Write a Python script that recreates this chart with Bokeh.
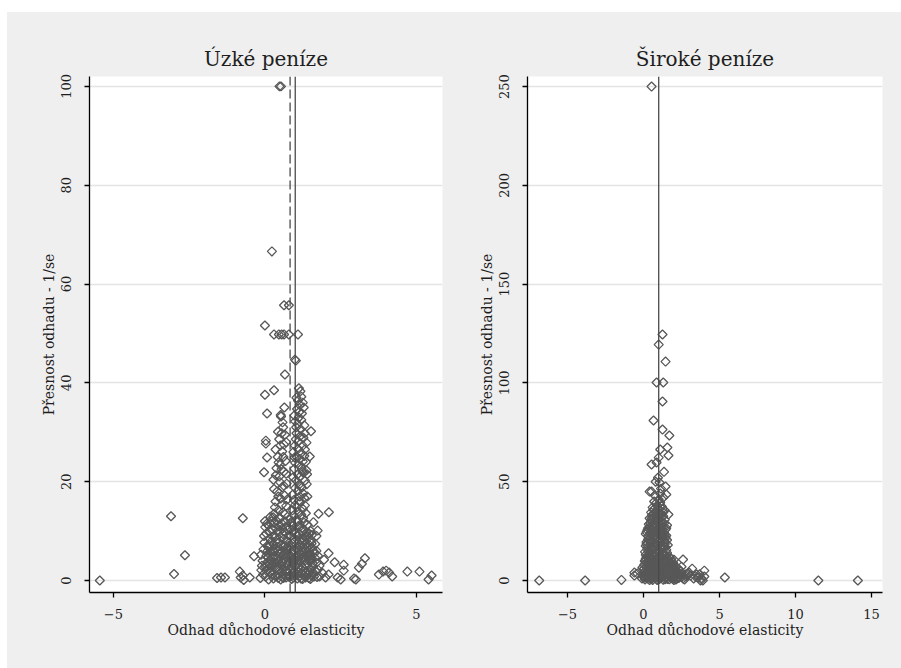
from bokeh.plotting import figure
from bokeh.layouts import row
from bokeh.models import Span, FixedTicker, Range1d
from bokeh.embed import file_html
from bokeh.resources import INLINE

# ---------------- data: (elasticity estimate, precision 1/se) ----------------
narrow_tail = [(-5.45, 0), (-3.1, 13), (-3.0, 1.3), (-2.64, 5.1), (-1.58, 0.5), (-1.45, 0.6),
               (-1.32, 0.6), (-0.83, 1.8), (-0.73, 1.0), (-0.7, 0.1), (-0.73, 12.6), (-0.5, 0.6),
               (-0.36, 4.9), (-0.8, 0.6), (1.77, 13.5), (2.11, 13.8), (1.74, 10.1), (2.1, 5.5),
               (2.3, 3.7), (2.6, 3.2), (2.6, 2.0), (2.0, 0.6), (2.1, 1.2), (2.4, 0.6), (2.5, 0.2),
               (2.94, 0.4), (3.0, 0.2), (3.1, 2.6), (3.2, 3.4), (3.3, 4.5), (3.76, 1.2), (3.9, 1.8),
               (4.0, 2.0), (4.1, 1.6), (4.2, 0.8), (4.7, 1.8), (5.1, 1.8), (5.4, 0.2), (5.5, 1.0),
               (1.8, 3), (1.9, 1.5), (1.7, 6), (1.95, 4.2), (1.75, 2.2)]
narrow_top = [(0.48, 100), (0.53, 100), (0.23, 66.6), (0.63, 55.7), (0.79, 55.7), (0.0, 51.6),
              (0.3, 49.8), (0.46, 49.8), (0.55, 49.8), (0.63, 49.8), (0.79, 49.8), (1.09, 49.8),
              (0.99, 44.7), (1.02, 44.5), (0.66, 41.7), (0.3, 38.5), (0.0, 37.6), (1.12, 38.9),
              (0.07, 33.8), (0.53, 33.2), (0.03, 27.7), (0.03, 28.3), (0.07, 24.9), (-0.03, 21.9),
              (1.52, 30.2), (1.48, 25.1), (1.39, 21.5)]
narrow_core = [(-0.12, 2.1), (-0.05, 6.3), (0.02, 0.8), (0.04, 9.5), (0.08, 3.7), (0.11, 11.2),
               (0.13, 5.4), (0.17, 1.6), (0.2, 7.9), (0.22, 3.1), (0.25, 10.4), (0.28, 0.4),
               (0.3, 5.9), (0.33, 8.7), (0.36, 2.5), (0.38, 12.1), (0.41, 4.4), (0.43, 6.8),
               (0.46, 1.2), (0.48, 9.9), (0.5, 3.3), (0.53, 7.2), (0.55, 11.6), (0.58, 0.7),
               (0.6, 5.1), (0.62, 8.4), (0.65, 2.9), (0.68, 10.8), (0.7, 4.7), (0.72, 6.1),
               (0.75, 1.9), (0.78, 9.1), (0.8, 3.8), (0.83, 12.4), (0.85, 5.6), (0.88, 0.3),
               (0.9, 7.5), (0.93, 2.3), (0.95, 10.1), (0.98, 4.2), (1.0, 8.1), (1.02, 1.4),
               (1.05, 6.6), (1.08, 11.9), (1.1, 3.5), (1.13, 9.4), (1.15, 0.9), (1.18, 5.3),
               (1.2, 7.7), (1.23, 2.7), (1.25, 10.6), (1.28, 4.9), (1.3, 1.1), (1.33, 8.9),
               (1.35, 6.2), (1.38, 3.0), (1.4, 11.3), (1.43, 5.0), (1.45, 0.5), (1.48, 7.1),
               (1.5, 2.4), (1.53, 4.1), (1.55, 9.2), (1.58, 1.7), (1.6, 6.0), (-0.08, 4.0),
               (0.0, 2.8), (0.05, 5.0), (0.15, 8.5), (0.18, 12.9), (0.27, 2.0), (0.35, 6.5),
               (0.45, 3.9), (0.52, 0.2), (0.57, 5.8), (0.67, 7.0), (0.73, 3.0), (0.82, 1.0),
               (0.87, 4.5), (0.92, 9.8), (0.97, 6.0), (1.03, 3.0), (1.07, 0.4), (1.12, 5.0),
               (1.17, 8.3), (1.22, 1.5), (1.27, 6.8), (1.32, 4.0), (1.37, 9.7), (1.42, 2.0),
               (1.47, 5.5), (1.52, 8.0), (1.57, 3.5), (1.62, 0.8), (1.65, 4.6)]
narrow_core2 = [(-0.15, 0.5), (-0.1, 3.0), (-0.02, 7.7), (0.01, 10.8), (0.06, 1.9), (0.09, 6.0),
                (0.12, 0.2), (0.14, 3.3), (0.16, 9.9), (0.19, 5.7), (0.21, 12.0), (0.24, 1.1),
                (0.26, 4.8), (0.29, 7.3), (0.31, 11.6), (0.34, 0.9), (0.37, 3.6), (0.39, 8.2),
                (0.42, 10.0), (0.44, 2.2), (0.47, 5.4), (0.49, 12.5), (0.51, 6.3), (0.54, 1.7),
                (0.56, 3.9), (0.59, 9.4), (0.61, 0.5), (0.63, 6.9), (0.66, 12.0), (0.69, 2.0),
                (0.71, 8.0), (0.74, 5.1), (0.76, 10.2), (0.79, 0.8), (0.81, 6.4), (0.84, 2.7),
                (0.86, 9.0), (0.89, 4.0), (0.91, 11.0), (0.94, 0.6), (0.96, 7.8), (0.99, 2.9),
                (1.01, 12.2), (1.04, 5.0), (1.06, 9.0), (1.09, 1.8), (1.11, 6.2), (1.14, 3.9),
                (1.16, 10.9), (1.19, 0.4), (1.21, 4.5), (1.24, 8.6), (1.26, 2.0), (1.29, 11.7),
                (1.31, 5.8), (1.34, 0.6), (1.36, 7.4), (1.39, 3.5), (1.41, 9.0), (1.44, 1.3),
                (1.46, 6.0), (1.49, 4.4), (1.51, 10.0), (1.54, 0.9), (1.56, 6.6), (1.59, 2.8),
                (1.63, 5.5), (1.67, 1.9), (1.7, 3.6), (1.72, 0.7), (-0.13, 5.2), (0.0, 12.0),
                (0.07, 7.0), (0.23, 5.5), (0.32, 2.8), (0.4, 1.0), (0.57, 10.5), (0.64, 4.2),
                (0.77, 7.0), (0.9, 1.5), (1.0, 4.8), (1.1, 11.0), (1.2, 6.0), (1.35, 1.8),
                (1.5, 5.0), (1.6, 11.8)]
narrow_core3 = [(-0.06, 1.2), (0.03, 3.4), (0.1, 4.6), (0.14, 7.2), (0.2, 2.0), (0.24, 6.1),
                (0.3, 3.6), (0.34, 4.9), (0.4, 7.6), (0.44, 0.5), (0.5, 5.7), (0.54, 3.0),
                (0.6, 2.2), (0.64, 9.8), (0.7, 0.6), (0.74, 7.9), (0.8, 5.3), (0.84, 0.8),
                (0.9, 5.8), (0.94, 3.5), (1.0, 1.0), (1.04, 7.3), (1.1, 2.6), (1.14, 6.8),
                (1.2, 4.2), (1.24, 0.3), (1.3, 8.2), (1.34, 3.2), (1.4, 6.7), (1.44, 4.0),
                (1.5, 0.3), (1.54, 7.5), (-0.03, 9.0), (0.06, 11.5), (0.26, 8.9), (0.46, 11.0),
                (0.66, 5.2), (0.86, 11.8), (1.06, 4.0), (1.26, 12.6), (1.46, 9.5), (0.12, 6.8),
                (0.36, 10.6), (0.58, 3.6), (0.8, 10.6), (1.02, 9.6), (1.22, 10.0), (1.4, 1.2),
                (0.18, 4.0), (0.42, 6.0), (0.62, 1.3), (0.96, 1.9), (1.16, 7.0), (1.36, 5.0),
                (1.56, 1.2), (1.66, 7.4), (1.7, 9.0), (1.75, 5.0), (1.8, 0.8)]
narrow_left_col = [(0.3, 13.5), (0.45, 14.2), (0.6, 13.8), (0.7, 15.1), (0.35, 16.0), (0.52, 16.6),
                   (0.65, 17.2), (0.4, 18.0), (0.58, 18.9), (0.72, 19.6), (0.28, 20.4), (0.48, 21.1),
                   (0.62, 22.0), (0.5, 23.4), (0.68, 24.2), (0.42, 25.0), (0.57, 26.1), (0.63, 27.5),
                   (0.47, 28.6), (0.55, 29.8), (0.6, 31.0), (0.38, 22.7), (0.7, 28.0), (0.52, 33.5),
                   (0.64, 35.0), (0.27, 12.8), (0.5, 12.6), (0.66, 13.4), (0.33, 14.8), (0.56, 15.3),
                   (0.74, 16.4), (0.44, 17.0), (0.3, 18.5), (0.62, 19.2), (0.5, 19.9), (0.36, 21.3),
                   (0.7, 21.6), (0.55, 22.5), (0.45, 23.9), (0.61, 25.0), (0.35, 26.5), (0.51, 27.3),
                   (0.66, 29.5), (0.43, 30.1), (0.58, 32.0)]
narrow_right_col = [(0.95, 13.2), (1.1, 13.9), (1.25, 14.5), (1.35, 13.6), (1.0, 15.3), (1.18, 15.9),
                    (1.3, 16.7), (0.92, 17.4), (1.08, 18.1), (1.22, 18.8), (1.38, 19.5), (1.02, 20.3),
                    (1.15, 21.0), (1.28, 21.8), (0.97, 22.6), (1.12, 23.4), (1.25, 24.1), (1.05, 25.0),
                    (1.2, 25.8), (1.32, 26.5), (0.99, 27.3), (1.1, 28.1), (1.27, 28.9), (1.04, 29.8),
                    (1.18, 30.6), (1.3, 31.4), (1.0, 32.2), (1.12, 33.0), (1.22, 33.8), (1.06, 34.7),
                    (1.15, 35.5), (1.09, 36.4), (1.2, 37.2), (1.03, 31.0), (1.24, 22.0), (1.15, 17.0),
                    (1.35, 24.0), (0.94, 26.0), (1.14, 19.5), (1.28, 35.0), (0.91, 14.2), (1.05, 14.8),
                    (1.2, 13.3), (1.32, 15.2), (0.96, 16.3), (1.12, 16.1), (1.26, 17.6), (1.4, 17.0),
                    (1.0, 18.7), (1.17, 19.0), (1.32, 20.2), (0.93, 20.9), (1.08, 21.5), (1.21, 22.7),
                    (1.37, 22.3), (1.0, 23.8), (1.15, 24.6), (1.3, 25.2), (0.98, 24.9), (1.09, 26.6),
                    (1.25, 27.3), (1.37, 27.9), (1.02, 28.6), (1.16, 29.2), (1.31, 29.8), (1.08, 31.7),
                    (1.2, 32.5), (0.97, 33.4), (1.13, 34.1), (1.25, 36.0), (1.04, 37.0), (1.17, 38.3)]

broad_tail = [(-6.86, 0), (-3.84, 0), (-1.45, 0.3), (-0.6, 4), (-0.6, 2.5), (-0.4, 3.5),
              (-0.07, 6.6), (2.6, 10.6), (2.5, 7), (4.0, 5), (4.0, 2), (3.9, 0), (3.75, 0),
              (5.35, 1.5), (11.5, 0), (14.1, 0), (2.2, 3), (2.8, 2), (3.0, 4), (3.3, 1), (3.5, 3),
              (2.4, 5), (2.0, 8), (2.7, 0.5), (3.2, 6), (3.6, 1.5), (2.9, 3.5), (2.3, 1.2)]
broad_top = [(0.53, 250), (1.25, 124.5), (1.0, 119.4), (1.45, 110.8), (0.86, 100.2), (1.3, 100.2),
             (1.25, 90.6), (0.66, 81), (1.25, 76.4), (1.7, 73.4), (1.1, 66.3), (1.57, 67.3),
             (1.64, 63.3), (1.0, 62.2), (0.86, 59.7), (0.53, 58.7), (0.8, 50), (1.05, 49.6),
             (1.45, 47.6), (0.4, 45), (0.53, 45), (1.1, 44), (1.5, 43.5), (1.05, 39), (1.64, 33.4)]
broad_core = [(-0.1, 1), (0.0, 4), (0.05, 8), (0.1, 0.5), (0.15, 11), (0.2, 3), (0.25, 6.5),
              (0.3, 9.5), (0.35, 1.8), (0.4, 5), (0.45, 12), (0.5, 2.5), (0.55, 7.5), (0.6, 0.3),
              (0.65, 10), (0.7, 4.2), (0.75, 6), (0.8, 1.2), (0.85, 8.8), (0.9, 3.4), (0.95, 11.5),
              (1.0, 5.5), (1.05, 0.8), (1.1, 7.2), (1.15, 2.2), (1.2, 9.6), (1.25, 4.6), (1.3, 0.4),
              (1.35, 6.8), (1.4, 3), (1.45, 10.5), (1.5, 1.6), (1.55, 5.2), (1.6, 8.2), (1.65, 2.8),
              (1.7, 0.6), (1.75, 4.4), (1.8, 6.4), (1.85, 1.4), (1.9, 3.6), (1.95, 9), (2.0, 0.2),
              (2.05, 5.8), (2.1, 2.4), (2.15, 4), (2.2, 1), (2.3, 6), (2.4, 2.6), (0.12, 2.6),
              (0.32, 4.4), (0.52, 0.9), (0.72, 8.6), (0.92, 6.2), (1.12, 3.8), (1.32, 8.4),
              (1.52, 11.5), (1.72, 7.6), (0.22, 9.2), (0.62, 4.8), (1.02, 2.4), (1.42, 0.6),
              (1.82, 10.8), (0.02, 6)]
broad_core2 = [(-0.05, 2.5), (0.03, 5.8), (0.08, 9.8), (0.13, 1.5), (0.18, 7), (0.23, 4.5),
               (0.28, 11.5), (0.33, 0.8), (0.38, 8.2), (0.43, 3), (0.48, 6.8), (0.53, 10.5),
               (0.58, 1.5), (0.63, 5.8), (0.68, 12.5), (0.73, 2.8), (0.78, 9.2), (0.83, 4.8),
               (0.88, 0.6), (0.93, 7.8), (0.98, 2.2), (1.03, 10.2), (1.08, 4.2), (1.13, 1.2),
               (1.18, 6.2), (1.23, 11.8), (1.28, 2.8), (1.33, 5), (1.38, 9.2), (1.43, 1.6),
               (1.48, 7.2), (1.53, 3.6), (1.58, 0.8), (1.63, 5.8), (1.68, 9.8), (1.73, 1.8),
               (1.78, 3), (1.83, 5.4), (1.88, 7.5), (1.93, 0.8), (1.98, 4.6), (2.03, 2),
               (2.08, 6.8), (2.13, 0.5), (2.25, 3.5), (2.35, 1.5), (2.45, 4.5), (2.55, 2),
               (0.4, 0.2), (0.9, 0.2), (1.4, 12.5), (0.1, 3.5), (0.6, 9), (1.1, 5.5), (1.6, 3.8),
               (2.0, 10.5)]
broad_core3 = [(0.05, 1.5), (0.15, 5), (0.25, 2), (0.35, 7), (0.45, 4), (0.55, 1), (0.65, 7),
               (0.75, 3), (0.85, 5.5), (0.95, 1.5), (1.05, 8), (1.15, 4.5), (1.25, 7.5), (1.35, 2),
               (1.45, 5), (1.55, 9.5), (1.65, 4.5), (1.75, 2.5), (1.85, 8.5), (1.95, 6), (0.2, 12),
               (0.5, 11.5), (0.8, 11), (1.1, 12), (1.4, 11), (1.7, 12), (0.3, 15), (0.6, 16),
               (0.9, 15), (1.2, 16.5), (1.5, 15.5), (0.2, 18.5), (0.5, 19), (0.8, 18.2), (1.1, 19),
               (1.4, 18.5), (0.35, 21), (0.65, 22), (0.95, 21.2), (1.25, 22.5), (1.45, 21.5),
               (0.2, 24.5), (0.5, 23), (0.8, 23), (1.1, 25), (1.4, 23), (0.3, 26.5), (0.6, 27.5),
               (0.9, 26), (1.2, 28), (1.5, 26.5), (0.45, 29), (0.75, 28.5), (1.05, 28.5),
               (1.35, 29), (0.55, 31.5), (0.85, 31.8), (1.15, 32), (0.7, 34), (1.0, 33.5),
               (1.3, 34.5), (0.1, 10), (0.4, 9.5), (0.7, 10), (1.0, 9), (1.3, 10.8), (1.6, 11),
               (1.9, 2.2), (2.1, 3.8), (2.2, 5), (2.5, 3), (2.6, 1), (2.8, 3.2), (3.1, 2.5),
               (3.4, 2.2), (3.7, 3.2), (3.8, 1.2)]
broad_col = [(0.15, 13), (0.4, 14), (0.7, 13.5), (1.0, 14.5), (1.3, 13.2), (1.55, 14), (0.25, 16.5),
             (0.55, 17), (0.85, 16), (1.15, 17.5), (1.45, 16.8), (0.2, 19.5), (0.5, 20), (0.8, 19),
             (1.1, 20.5), (1.4, 19.8), (0.3, 22.5), (0.6, 23), (0.9, 22), (1.2, 23.5), (1.5, 22.8),
             (0.25, 25.5), (0.55, 26), (0.85, 25), (1.15, 26.5), (1.45, 25.8), (0.35, 28.5),
             (0.65, 29), (0.95, 28), (1.25, 29.5), (0.4, 31.5), (0.7, 32), (1.0, 31), (1.3, 32.5),
             (0.5, 34.5), (0.8, 35), (1.1, 34), (1.4, 35.5), (0.6, 37), (0.9, 38), (1.2, 37.5),
             (1.0, 41), (0.7, 40), (1.3, 42)]
broad_col2 = [(0.1, 14.5), (0.35, 13), (0.6, 15), (0.9, 13.5), (1.2, 15.5), (1.45, 13), (0.15, 17.5),
              (0.45, 18.5), (0.75, 17.5), (1.05, 18.8), (1.35, 17.2), (1.6, 18), (0.3, 20.8),
              (0.65, 21.5), (0.95, 20.2), (1.25, 21.8), (1.55, 20.5), (0.15, 23.5), (0.45, 24),
              (0.75, 24.5), (1.05, 23.8), (1.35, 24.2), (0.4, 27), (0.7, 27.5), (1.0, 26.8),
              (1.3, 27.2), (1.55, 28), (0.5, 30.2), (0.8, 30.5), (1.1, 29.8), (1.4, 30.8),
              (0.55, 33), (0.9, 33.2), (1.2, 33.6), (0.65, 35.8), (0.95, 36.5), (1.25, 36.2),
              (0.8, 39), (1.1, 39.5), (0.75, 43), (1.15, 46.5), (0.95, 52), (1.35, 55)]

narrow_xticks = [-5, 0, 5]
narrow_yticks = [0, 20, 40, 60, 80, 100]
broad_xticks = [-5, 0, 5, 10, 15]
broad_yticks = [0, 50, 100, 150, 200, 250]
narrow_solid_line = 1.0
narrow_dashed_line = 0.83
broad_solid_line = 1.0

titles = ["Úzké peníze", "Široké peníze"]
x_label = "Odhad důchodové elasticity"
y_label = "Přesnost odhadu - 1/se"

FONT = "DejaVu Serif"
BG = "#efefef"
TXT = "#1e1e1e"
MK = "#585858"
H = 656


def panel(title, groups, xr, yr, xticks, yticks, width, bl, br, solid, dashed=None):
    pts = [pt for g in groups for pt in g]
    xs = [a for a, b in pts]
    ys = [b for a, b in pts]
    p = figure(width=width, height=H, output_backend="svg", toolbar_location=None,
               x_range=Range1d(*xr), y_range=Range1d(*yr),
               min_border_left=bl, min_border_right=br, min_border_top=64,
               min_border_bottom=H + 12 - 592,
               background_fill_color="white", border_fill_color=BG, outline_line_color=None)
    p.title.text = title
    p.title.align = "center"
    p.title.text_font = FONT
    p.title.text_font_size = "20px"
    p.title.text_font_style = "normal"
    p.title.text_color = TXT
    p.title.standoff = 12

    p.xgrid.visible = False
    p.ygrid.grid_line_color = "#e4e4e4"
    p.ygrid.grid_line_width = 1.5
    p.ygrid.ticker = FixedTicker(ticks=yticks)

    p.xaxis.ticker = FixedTicker(ticks=xticks)
    p.yaxis.ticker = FixedTicker(ticks=yticks)
    for ax in (p.xaxis[0], p.yaxis[0]):
        ax.axis_line_color = "black"
        ax.axis_line_width = 1.3
        ax.major_tick_line_color = "black"
        ax.major_tick_line_width = 1.3
        ax.major_tick_out = 5
        ax.major_tick_in = 0
        ax.minor_tick_line_color = None
        ax.major_label_text_font = FONT
        ax.major_label_text_font_size = "13px"
        ax.major_label_text_color = TXT
        ax.axis_label_text_font = FONT
        ax.axis_label_text_font_size = "14px"
        ax.axis_label_text_font_style = "normal"
        ax.axis_label_text_color = TXT
    p.xaxis.axis_label = x_label
    p.yaxis.axis_label = y_label
    p.xaxis.major_label_standoff = 11
    p.xaxis.axis_label_standoff = 0
    p.yaxis.major_label_standoff = 13
    p.yaxis.axis_label_standoff = 2
    p.yaxis.major_label_orientation = "vertical"

    p.add_layout(Span(location=solid, dimension="height", line_color="#4a4a4a", line_width=1.3))
    if dashed is not None:
        p.add_layout(Span(location=dashed, dimension="height", line_color="#4a4a4a",
                          line_width=1.3, line_dash="9 4"))

    p.scatter(xs, ys, marker="square", angle=0.785398, size=6.4,
              fill_color=None, line_color=MK, line_width=1.3)
    return p


p1 = panel(titles[0], [narrow_tail, narrow_top, narrow_core, narrow_core2, narrow_core3,
                       narrow_left_col, narrow_right_col],
           (-5.79, 5.86), (-2.43, 102.0), narrow_xticks, narrow_yticks, 443, 82, 8,
           narrow_solid_line, narrow_dashed_line)
p2 = panel(titles[1], [broad_tail, broad_top, broad_core, broad_core2, broad_core3, broad_col,
                       broad_col2],
           (-7.63, 15.72), (-6.07, 255.1), broad_xticks, broad_yticks, 451, 77, 19,
           broad_solid_line)

layout = row(p1, p2, margin=(12, 0, 0, 7), styles={"background-color": BG})
open("out.html", "w").write(file_html(layout, INLINE))
